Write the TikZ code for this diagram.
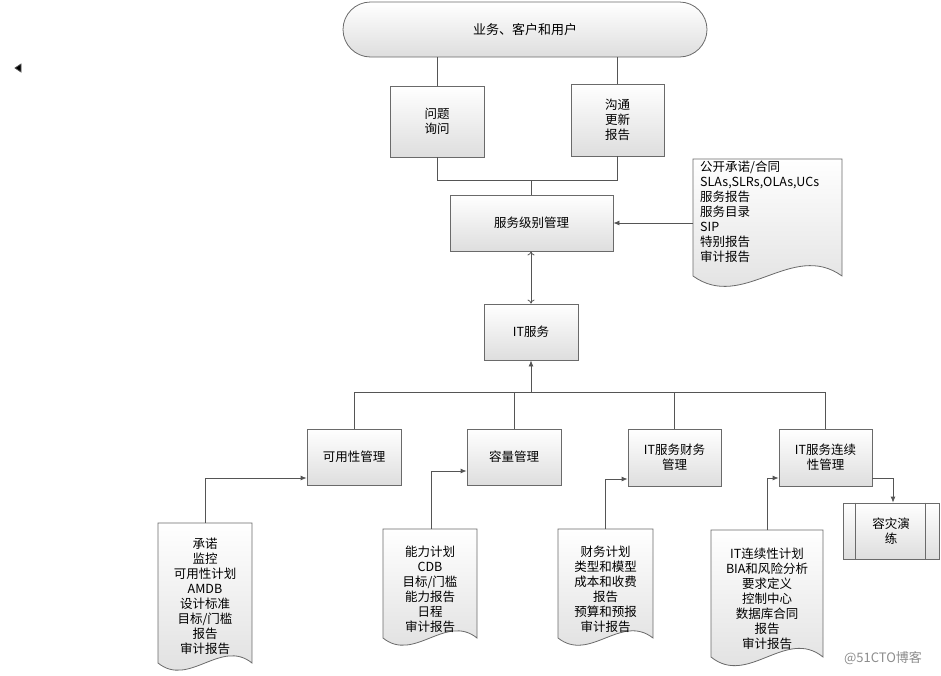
\documentclass[tikz,border=0pt]{standalone}
\usepackage{fontspec}
\setmainfont{Noto Sans CJK SC}
\usetikzlibrary{arrows.meta}
\definecolor{ln}{HTML}{555555}
\definecolor{bd}{HTML}{6A6A6A}
\begin{document}
\begin{tikzpicture}[x=1pt,y=-1pt,
  box/.style={draw=bd, line width=0.8pt, top color=white, bottom color=black!13,
    inner sep=0pt, align=center, font=\fontsize{12.5}{15}\selectfont},
  docst/.style={draw=bd, line width=0.8pt, top color=white, bottom color=black!13},
  doctext/.style={inner sep=0pt, font=\fontsize{12.5}{15}\selectfont},
  ln/.style={draw=ln, line width=0.8pt},
  arr/.style={ln, -{Latex[length=6pt,width=5pt]}},
  darr/.style={ln, {To[length=4pt,width=7pt]}-{To[length=4pt,width=7pt]}}]
\useasboundingbox (0,0) rectangle (941,675);

% small triangle mark
\fill[ln] (15,68) -- (21,64) -- (21,72) -- cycle;

% top
\node[box, minimum width=364pt, minimum height=55pt, rounded corners=27.5pt, font=\fontsize{13}{15}\selectfont] (top) at (525,29.5) {业务、客户和用户};
\node[box, minimum width=94pt, minimum height=71pt] (q) at (437,121.5) {问题\\询问};
\node[box, minimum width=93pt, minimum height=72pt] (c) at (617.5,120) {沟通\\更新\\报告};
\node[box, minimum width=163pt, minimum height=56pt] (slm) at (531.5,223) {服务级别管理};
\node[box, minimum width=94pt, minimum height=56pt] (its) at (531,332) {IT服务};

\node[box, minimum width=94pt, minimum height=56pt] (av) at (354,457) {可用性管理};
\node[box, minimum width=94pt, minimum height=56pt] (cap) at (514,457) {容量管理};
\node[box, minimum width=93pt, minimum height=57pt] (fin) at (674.5,457.5) {IT服务财务\\管理};
\node[box, minimum width=93pt, minimum height=57pt] (cont) at (825.5,457.5) {IT服务连续\\性管理};
\node[box, minimum width=96pt, minimum height=56pt] (dr) at (891,531) {容灾演\\练};
\draw[draw=bd, line width=0.8pt] ([xshift=13pt]dr.north west) -- ([xshift=13pt]dr.south west);
\draw[draw=bd, line width=0.8pt] ([xshift=-14pt]dr.north east) -- ([xshift=-14pt]dr.south east);

% documents
\path[docst] (693,159) -- (842,159) -- (842,276) .. controls (792,240) and (743,312) .. (693,276) -- cycle;
\node[doctext, align=left, anchor=north west] (sr) at (700,161)
  {公开承诺/合同\\SLAs,SLRs,OLAs,UCs\\服务报告\\服务目录\\SIP\\特别报告\\审计报告};
\coordinate (srl) at (693,223);

\path[docst] (158,523) -- (252,523) -- (252,663) .. controls (221,638) and (189,688) .. (158,663) -- cycle;
\node[doctext, align=center] (d1t) at (205,596) {承诺\\监控\\可用性计划\\AMDB\\设计标准\\目标/门槛\\报告\\审计报告};
\coordinate (d1) at (205,523);

\path[docst] (383,529) -- (477,529) -- (477,638) .. controls (446,613) and (414,663) .. (383,638) -- cycle;
\node[doctext, align=center] (d2t) at (430,589) {能力计划\\CDB\\目标/门槛\\能力报告\\日程\\审计报告};
\coordinate (d2) at (431,529);

\path[docst] (558,529) -- (653,529) -- (653,638) .. controls (621,613) and (590,663) .. (558,638) -- cycle;
\node[doctext, align=center] (d3t) at (605.5,589) {财务计划\\类型和模型\\成本和收费\\报告\\预算和预报\\审计报告};
\coordinate (d3) at (605,529);

\path[docst] (711,530) -- (823,530) -- (823,657) .. controls (786,627) and (748,687) .. (711,657) -- cycle;
\node[doctext, align=center] (d4t) at (767,599) {IT连续性计划\\BIA和风险分析\\要求定义\\控制中心\\数据库合同\\报告\\审计报告};
\coordinate (d4) at (767,530);

% connectors
\draw[ln] (top.south -| q.north) -- (q.north);
\draw[ln] (top.south -| c.north) -- (c.north);
\coordinate (j1) at (531,180);
\draw[ln] (q.south) -- (q.south |- j1) -- (c.south |- j1) -- (c.south);
\draw[ln] (j1) -- (j1 |- slm.north);
\draw[arr] (srl) -- (slm.east);
\draw[darr] (slm.south -| its.north) -- (its.north);
\coordinate (j2) at (531,392);
\draw[arr] (j2) -- (its.south);
\draw[ln] (av.north) -- (av.north |- j2) -- (cont.north |- j2) -- (cont.north);
\draw[ln] (cap.north) -- (cap.north |- j2);
\draw[ln] (fin.north) -- (fin.north |- j2);

\draw[arr] (d1) |- ([yshift=-21pt]av.west);
\draw[arr] (d2) |- ([yshift=-14pt]cap.west);
\draw[arr] (d3) |- ([yshift=-21.5pt]fin.west);
\draw[arr] (d4) |- ([yshift=-20.5pt]cont.west);
\draw[arr] ([yshift=-20.5pt]cont.east) -| ([xshift=2pt]dr.north);

% watermark
\node[text=black!45, font=\fontsize{13}{15}\selectfont] (wm) at (883,658) {@51CTO博客};
\end{tikzpicture}
\end{document}
